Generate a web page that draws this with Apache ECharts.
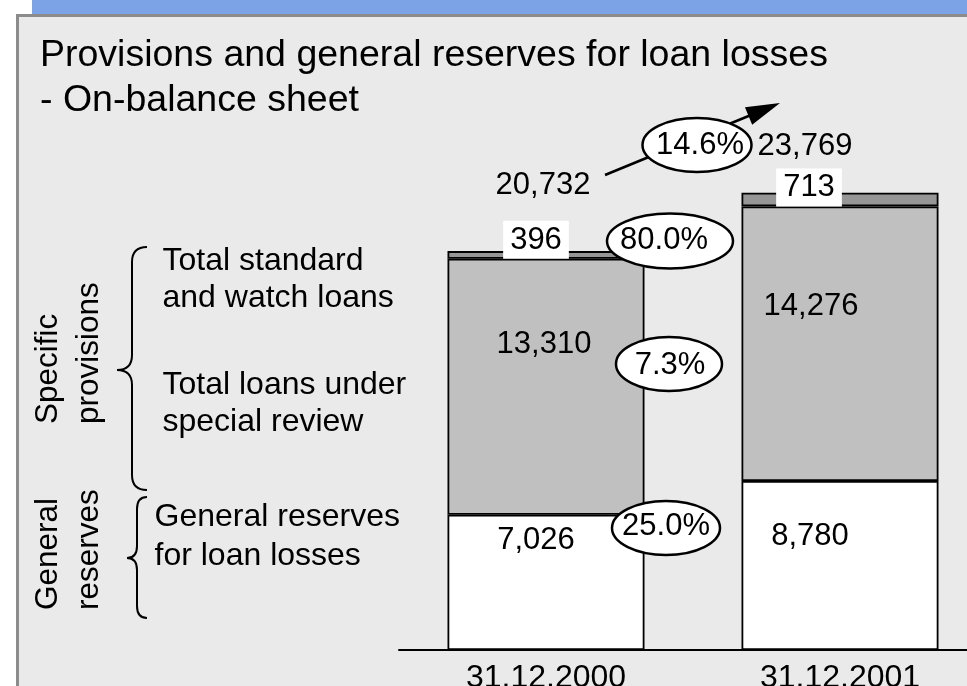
<!DOCTYPE html>
<html>
<head>
<meta charset="utf-8">
<script src="https://cdn.jsdelivr.net/npm/echarts@6/dist/echarts.min.js"></script>
<style>
  html, body { margin: 0; padding: 0; background: #ffffff; }
  #chart { width: 967px; height: 686px; }
</style>
</head>
<body>
<div id="chart"></div>
<script>
// Reporting dates
const categories = ['31.12.2000', '31.12.2001'];
// General reserves for loan losses
const generalReserves = [7026, 8780];
// Specific provisions: total loans under special review
const specialReview = [13310, 14276];
// Specific provisions: total standard and watch loans
const standardWatch = [396, 713];
// Year-on-year growth (%): total, standard/watch, special review, general reserves
const growthTotal = 14.6;
const growthStandardWatch = 80.0;
const growthSpecialReview = 7.3;
const growthGeneral = 25.0;

const FONT = '"Liberation Sans", Arial, Helvetica, sans-serif';
const fmt = v => v.toLocaleString('en-US');
const pct = v => v.toFixed(1) + '%';
const totals = categories.map((_, i) => generalReserves[i] + specialReview[i] + standardWatch[i]);

const chart = echarts.init(document.getElementById('chart'), null, { renderer: 'canvas' });

const labelText = {
  color: '#000',
  opacity: 1,
  fontSize: 31,
  fontFamily: FONT,
  fontWeight: 'normal'
};

function barSeries(name, values, color, labelCfg) {
  return {
    name,
    type: 'bar',
    stack: 'total',
    barWidth: 197,
    silent: true,
    animation: false,
    itemStyle: { color, borderColor: '#000', borderWidth: 1.8 },
    label: Object.assign({ show: true, formatter: p => fmt(p.value) }, labelText, labelCfg.common),
    data: values.map((v, i) => ({ value: v, label: labelCfg.items[i] }))
  };
}

// ellipse badge with a growth figure
function badge(cx, cy, rx, ry, text, tx, ty) {
  return [
    {
      type: 'ellipse', z: 20,
      shape: { cx, cy, rx, ry },
      style: { fill: '#fff', stroke: '#000', lineWidth: 2.5 }
    },
    {
      type: 'text', z: 21, x: tx, y: ty,
      style: {
        text, font: '31px ' + FONT, fill: '#000',
        align: 'center', verticalAlign: 'middle',
        textAlign: 'center', textVerticalAlign: 'middle'
      }
    }
  ];
}

function sideText(x, y, text, lh) {
  return {
    type: 'text', z: 5, x, y,
    style: {
      text, font: '32px ' + FONT, fill: '#000', lineHeight: lh,
      align: 'left', verticalAlign: 'top',
      textAlign: 'left', textVerticalAlign: 'top'
    }
  };
}

function rotatedText(x, y, text) {
  return {
    type: 'text', z: 5, x, y, rotation: Math.PI / 2,
    style: {
      text, font: '31.5px ' + FONT, fill: '#000', lineHeight: 41,
      align: 'left', verticalAlign: 'top',
      textAlign: 'left', textVerticalAlign: 'top'
    }
  };
}

// curly brace opening to the right: ends at xEnd, spine at xMid, point at xTip
function brace(xEnd, xMid, xTip, yTop, yTip, yBot, r) {
  const st = { fill: 'none', stroke: '#000', lineWidth: 2 };
  const q = (x1, y1, cx, cy, x2, y2) => ({
    type: 'bezierCurve', z: 5,
    shape: { x1, y1, cpx1: cx, cpy1: cy, x2, y2 },
    style: st
  });
  const l = (x1, y1, x2, y2) => ({ type: 'line', z: 5, shape: { x1, y1, x2, y2 }, style: st });
  return [
    q(xEnd, yTop, xMid, yTop, xMid, yTop + r),
    l(xMid, yTop + r, xMid, yTip - r),
    q(xMid, yTip - r, xMid, yTip, xTip, yTip),
    q(xTip, yTip, xMid, yTip, xMid, yTip + r),
    l(xMid, yTip + r, xMid, yBot - r),
    q(xMid, yBot - r, xMid, yBot, xEnd, yBot)
  ];
}

// arrow from the first total towards the second
const arrowTip = [780, 103];
const arrowTail = [605, 175];
const adx = arrowTip[0] - arrowTail[0], ady = arrowTip[1] - arrowTail[1];
const alen = Math.hypot(adx, ady);
const ux = adx / alen, uy = ady / alen;
const headLen = 34, headHalf = 9.5;
const baseX = arrowTip[0] - headLen * ux, baseY = arrowTip[1] - headLen * uy;

const graphics = [
  // page band and panel
  { type: 'rect', z: -10, shape: { x: 32, y: 0, width: 935, height: 14 }, style: { fill: '#7BA3E5' } },
  { type: 'rect', z: -10, shape: { x: 16, y: 14, width: 960, height: 680 }, style: { fill: '#8C8C8C' } },
  { type: 'rect', z: -9, shape: { x: 19, y: 17, width: 960, height: 680 }, style: { fill: '#EAEAEA' } },

  // row descriptions
  sideText(162.5, 243, 'Total standard\nand watch loans', 37),
  sideText(162.5, 367, 'Total loans under\nspecial review', 37),
  sideText(154.5, 498, 'General reserves\nfor loan losses', 38.5),

  // group captions
  rotatedText(28, 424, 'Specific\nprovisions'),
  rotatedText(28, 610, 'General\nreserves'),

  // braces
  ...brace(147, 132, 117, 247, 370, 490, 15),
  ...brace(147, 137, 127, 497, 558, 618, 12),

  // growth arrow
  {
    type: 'line', z: 15,
    shape: { x1: arrowTail[0], y1: arrowTail[1], x2: baseX + 2 * ux, y2: baseY + 2 * uy },
    style: { stroke: '#000', lineWidth: 2.6 }
  },
  {
    type: 'polygon', z: 15,
    shape: {
      points: [
        arrowTip,
        [baseX - headHalf * uy, baseY + headHalf * ux],
        [baseX + headHalf * uy, baseY - headHalf * ux]
      ]
    },
    style: { fill: '#000' }
  },

  ...badge(697, 145, 54.5, 27, pct(growthTotal), 700, 145),
  ...badge(670, 241, 63, 27.5, pct(growthStandardWatch), 664, 240),
  ...badge(669, 364, 53, 27, pct(growthSpecialReview), 670, 365),
  ...badge(666, 528, 54, 27, pct(growthGeneral), 666, 526)
];

const option = {
  backgroundColor: '#ffffff',
  animation: false,
  title: {
    text: 'Provisions and general reserves for loan losses\n- On-balance sheet',
    left: 40,
    top: 33,
    padding: 0,
    textStyle: {
      color: '#000', fontSize: 37.5, lineHeight: 45,
      fontWeight: 'normal', fontFamily: FONT
    }
  },
  grid: {
    left: 399, width: 588, top: 169, bottom: 36,
    containLabel: false, outerBoundsMode: 'none'
  },
  xAxis: {
    type: 'category',
    data: categories,
    axisLine: { show: true, lineStyle: { color: '#000', width: 2 } },
    axisTick: { show: false },
    axisLabel: { color: '#000', fontSize: 32, fontFamily: FONT, margin: 12 },
    splitLine: { show: false }
  },
  yAxis: {
    type: 'value', min: 0, max: 25000, show: false,
    splitLine: { show: false }
  },
  series: [
    barSeries('General reserves for loan losses', generalReserves, '#FFFFFF', {
      common: { align: 'center', verticalAlign: 'middle' },
      items: [
        { position: ['50%', 26], offset: [-10, 0] },
        { position: ['50%', 55], offset: [-30, 0] }
      ]
    }),
    barSeries('Total loans under special review', specialReview, '#C0C0C0', {
      common: { align: 'center', verticalAlign: 'middle' },
      items: [
        { position: ['50%', 86], offset: [-2, 0] },
        { position: ['50%', 100], offset: [-29, 0] }
      ]
    }),
    barSeries('Total standard and watch loans', standardWatch, '#969696', {
      common: {
        align: 'center', verticalAlign: 'bottom',
        backgroundColor: '#FFFFFF', padding: [4, 7, 3, 7]
      },
      items: [
        { position: ['50%', '100%'], offset: [-10, 0] },
        { position: ['50%', '100%'], offset: [-31, 0] }
      ]
    }),
    {
      name: 'Total',
      type: 'scatter',
      silent: true,
      symbolSize: 1,
      itemStyle: { color: 'transparent', opacity: 1 },
      label: Object.assign({ show: true, position: 'inside', formatter: p => fmt(p.value) }, labelText),
      data: [
        { value: totals[0], label: { offset: [-3, -66] } },
        { value: totals[1], label: { offset: [-35, -46] } }
      ],
      z: 6
    }
  ],
  graphic: { elements: graphics }
};

chart.setOption(option);
</script>
</body>
</html>
